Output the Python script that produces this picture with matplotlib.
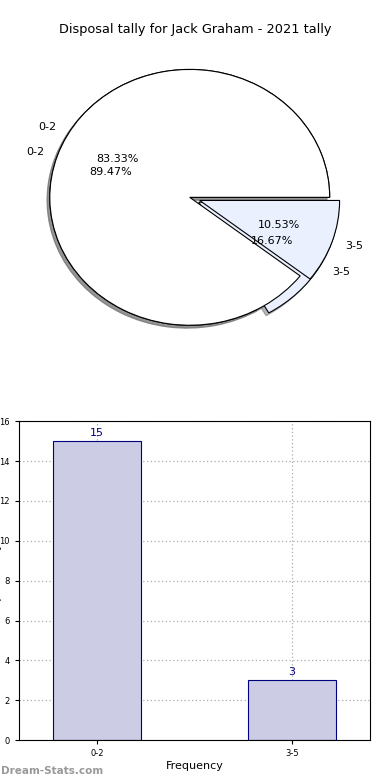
import matplotlib
matplotlib.use("Agg")
import matplotlib.pyplot as plt

labels = ["0-2", "3-5"]
tally_a = [15, 3]      # 83.33% / 16.67%
tally_b = [17, 2]      # 89.47% / 10.53%
bar_values = [15, 3]

pie_colors = ["#ffffff", "#eaf0fe"]

fig = plt.figure(figsize=(3.9, 7.8), dpi=100)

# pie section
ax1 = fig.add_axes([0.038, 0.542, 0.897, 0.41])
for vals in (tally_a, tally_b):
    ax1.pie(vals, labels=labels, colors=pie_colors, explode=(0, 0.075),
            autopct="%1.2f%%",
            shadow={"ox": -0.014, "oy": -0.016, "shade": 0.55, "alpha": 0.5},
            startangle=0,
            wedgeprops={"edgecolor": "black", "linewidth": 0.8},
            textprops={"fontsize": 8})
ax1.set_aspect("auto")
ax1.set_xlim(-1.25, 1.25)
ax1.set_ylim(-1.25, 1.25)
fig.text(0.5, 0.962, "Disposal tally for Jack Graham - 2021 tally",
         ha="center", va="center", fontsize=9.3)

# bar section
ax2 = fig.add_axes([0.049, 0.051, 0.9, 0.409])
x = range(len(labels))
bars = ax2.bar(x, bar_values, width=0.45, color="#ccccE5",
               edgecolor="navy", linewidth=0.8, zorder=2)
for b, v in zip(bars, bar_values):
    ax2.text(b.get_x() + b.get_width() / 2, v + 0.15, str(v),
             ha="center", va="bottom", color="navy", fontsize=8)
ax2.set_xlim(-0.4, 1.4)
ax2.set_ylim(0, 16)
ax2.set_xticks(list(x))
ax2.set_xticklabels(labels)
ax2.set_yticks(range(0, 17, 2))
ax2.tick_params(labelsize=6, length=3)
ax2.grid(True, linestyle=(0, (1, 2)), color="#aaaaaa", linewidth=0.9, zorder=0)
ax2.set_axisbelow(True)
ax2.set_xlabel("Frequency", fontsize=8, labelpad=2)
ax2.set_ylabel("Disposal Tally", fontsize=8)
ax2.yaxis.set_label_coords(-0.05, 0.5)

fig.text(0.003, 0.012, "Dream-Stats.com", color="#999999", fontsize=7.5,
         fontweight="bold", ha="left", va="center")

fig.savefig("out.png", dpi=100)
